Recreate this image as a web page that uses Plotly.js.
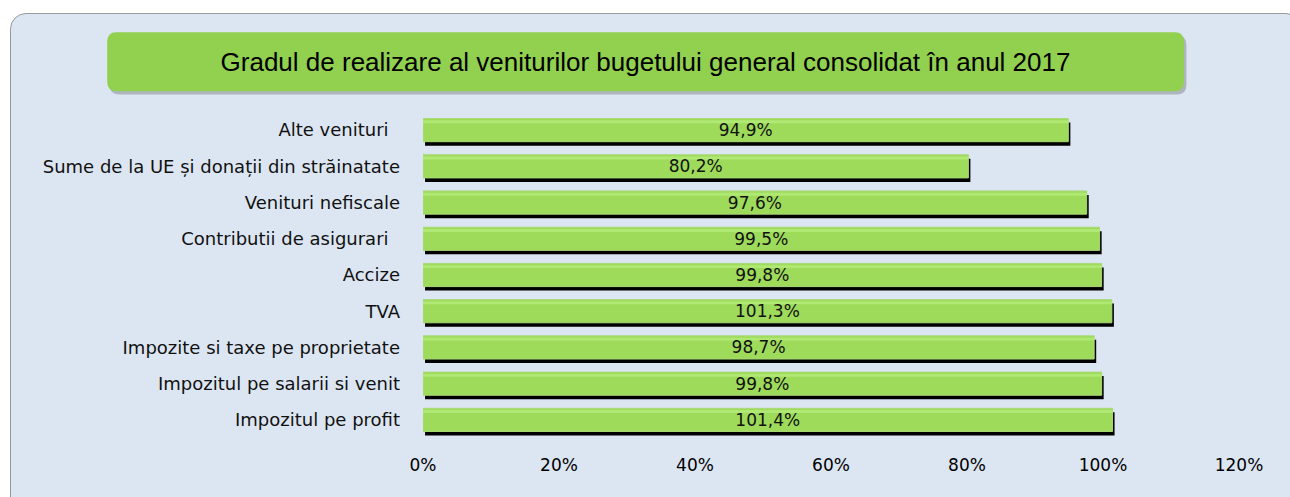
<!DOCTYPE html>
<html>
<head>
<meta charset="utf-8">
<script src="https://cdn.plot.ly/plotly-3.0.1.min.js"></script>
<style>
  body { margin:0; background:#ffffff; }
  #panel {
    position:absolute; left:10px; top:13px; width:1290px; height:500px;
    background:#dce6f2; border:1px solid #9a9a9a; border-radius:16px;
  }
  #grafica { position:absolute; left:0; top:0; width:1290px; height:497px; }
</style>
</head>
<body>
<div id="panel"></div>
<div id="grafica"></div>
<script>
// categorii, de sus in jos
const categorii = [
    "Alte venituri\u00a0\u00a0",
    "Sume de la UE și donații din străinatate",
    "Venituri nefiscale",
    "Contributii de asigurari\u00a0\u00a0",
    "Accize",
    "TVA",
    "Impozite si taxe pe proprietate",
    "Impozitul pe salarii si venit",
    "Impozitul pe profit"
];

const valori = [94.9, 80.2, 97.6, 99.5, 99.8, 101.3, 98.7, 99.8, 101.4];

const etichete = ["94,9%", "80,2%", "97,6%", "99,5%", "99,8%", "101,3%", "98,7%", "99,8%", "101,4%"];

const titlu = "Gradul de realizare al veniturilor bugetului general consolidat în anul 2017";

const latime = 0.64;

// umbra neagra sub fiecare bara
let umbra = {
    type:'bar',
    orientation:'h',
    y:categorii,
    x:valori,
    base:0.3,
    width:latime,
    offset:-latime/2 + 0.11,
    marker:{ color:'#000000' },
    hoverinfo:'skip',
    showlegend:false
};

let bare = {
    type:'bar',
    orientation:'h',
    y:categorii,
    x:valori,
    width:latime,
    offset:-latime/2,
    marker:{
        color:'#9edb5b',
        line:{ color:'#a9d977', width:1 }
    },
    showlegend:false
};

// fasie luminoasa sus pe bara
let luciu = {
    type:'bar',
    orientation:'h',
    y:categorii,
    x:valori,
    width:0.08,
    offset:-latime/2 + 0.05,
    marker:{ color:'#b0e874', line:{ width:0 } },
    hoverinfo:'skip',
    showlegend:false
};

// eticheta cu valoarea, centrata pe bara
let texte = {
    type:'bar',
    orientation:'h',
    y:categorii,
    x:valori,
    width:latime,
    offset:-latime/2,
    text:etichete,
    textposition:'inside',
    insidetextanchor:'middle',
    constraintext:'none',
    textfont:{ family:'DejaVu Sans', size:17, color:'#111111' },
    marker:{ color:'rgba(0,0,0,0)', line:{ width:0 } },
    showlegend:false
};

// caseta verde a titlului (coordonate paper)
const bx0 = -0.387, bx1 = 0.9326, by0 = 1.064, by1 = 1.245;
const rx = 0.011, ry = 0.03;

function casetaRotunjita(x0, x1, y0, y1){
    return 'M ' + (x0+rx) + ',' + y1 +
        ' L ' + (x1-rx) + ',' + y1 +
        ' Q ' + x1 + ',' + y1 + ' ' + x1 + ',' + (y1-ry) +
        ' L ' + x1 + ',' + (y0+ry) +
        ' Q ' + x1 + ',' + y0 + ' ' + (x1-rx) + ',' + y0 +
        ' L ' + (x0+rx) + ',' + y0 +
        ' Q ' + x0 + ',' + y0 + ' ' + x0 + ',' + (y0+ry) +
        ' L ' + x0 + ',' + (y1-ry) +
        ' Q ' + x0 + ',' + y1 + ' ' + (x0+rx) + ',' + y1 + ' Z';
}

let layout = {
    width:1290,
    height:497,
    margin:{ l:423, r:51, t:112, b:59 },
    paper_bgcolor:'rgba(0,0,0,0)',
    plot_bgcolor:'rgba(0,0,0,0)',
    barmode:'overlay',
    title:{
        text:titlu,
        font:{ family:'Liberation Sans, Arial', size:26, color:'#000000' },
        x:645.5/1290, xref:'container', xanchor:'center',
        y:1 - 62/497, yref:'container', yanchor:'middle'
    },
    xaxis:{
        range:[0,120],
        dtick:20,
        ticksuffix:'%',
        showgrid:false,
        zeroline:false,
        showline:false,
        ticks:'',
        ticklabelstandoff:15,
        tickfont:{ family:'DejaVu Sans', size:17, color:'#000000' }
    },
    yaxis:{
        autorange:'reversed',
        showgrid:false,
        zeroline:false,
        showline:false,
        ticks:'',
        ticklabelstandoff:22,
        tickfont:{ family:'DejaVu Sans', size:18, color:'#111111' }
    },
    shapes:[
        {
            type:'path', xref:'paper', yref:'paper', layer:'below',
            path:casetaRotunjita(bx0+0.003, bx1+0.003, by0-0.01, by1-0.01),
            fillcolor:'rgba(90,90,90,0.35)', line:{ width:0 }
        },
        {
            type:'path', xref:'paper', yref:'paper', layer:'below',
            path:casetaRotunjita(bx0, bx1, by0, by1),
            fillcolor:'#92d050', line:{ width:0 }
        }
    ]
};

Plotly.newPlot('grafica', [umbra, bare, luciu, texte], layout, { displayModeBar:false, staticPlot:true });
</script>
</body>
</html>
